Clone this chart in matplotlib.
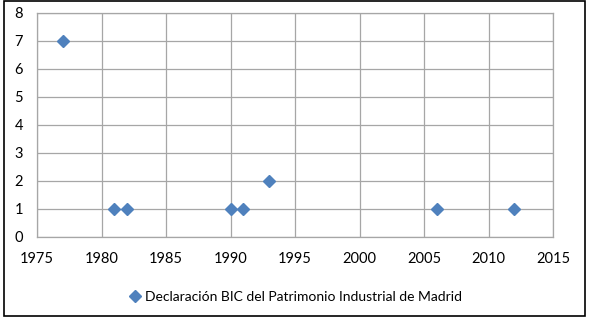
import matplotlib.pyplot as plt
from matplotlib.patches import Rectangle

# Data
years = [1977, 1981, 1982, 1990, 1991, 1993, 2006, 2012]
counts = [7, 1, 1, 1, 1, 2, 1, 1]
series_name = 'Declaración BIC del Patrimonio Industrial de Madrid'
x_ticks = [1975, 1980, 1985, 1990, 1995, 2000, 2005, 2010, 2015]
y_ticks = [0, 1, 2, 3, 4, 5, 6, 7, 8]

plt.rcParams['font.family'] = ['Lato', 'DejaVu Sans']

fig = plt.figure(figsize=(5.91, 3.23), dpi=100)
ax = fig.add_axes([37 / 591, 1 - 237 / 323, 516 / 591, 224 / 323])

ax.plot(years, counts, linestyle='none', marker='D', markersize=6,
        color='#4F81BD', label=series_name, clip_on=False, zorder=3)

ax.set_xlim(1975, 2015)
ax.set_ylim(0, 8)
ax.set_xticks(x_ticks)
ax.set_yticks(y_ticks)
ax.grid(True, color='#a6a6a6', linewidth=0.9)
ax.set_axisbelow(True)
for side in ax.spines.values():
    side.set_color('#a6a6a6')
    side.set_linewidth(0.9)
ax.tick_params(length=0, labelsize=10.5, colors='#000000')
ax.tick_params(axis='x', pad=11)
ax.tick_params(axis='y', pad=10)

fig.legend(loc='center', bbox_to_anchor=(0.5, 1 - 297 / 323), frameon=False,
           fontsize=10, handlelength=0.8, handletextpad=0.3, numpoints=1)

# outer chart border
fig.patches.append(Rectangle((4 / 591, 1 - 316 / 323), 581 / 591, 315 / 323,
                             transform=fig.transFigure, fill=False,
                             edgecolor='black', linewidth=1.2))

fig.savefig('out.png', dpi=100)
